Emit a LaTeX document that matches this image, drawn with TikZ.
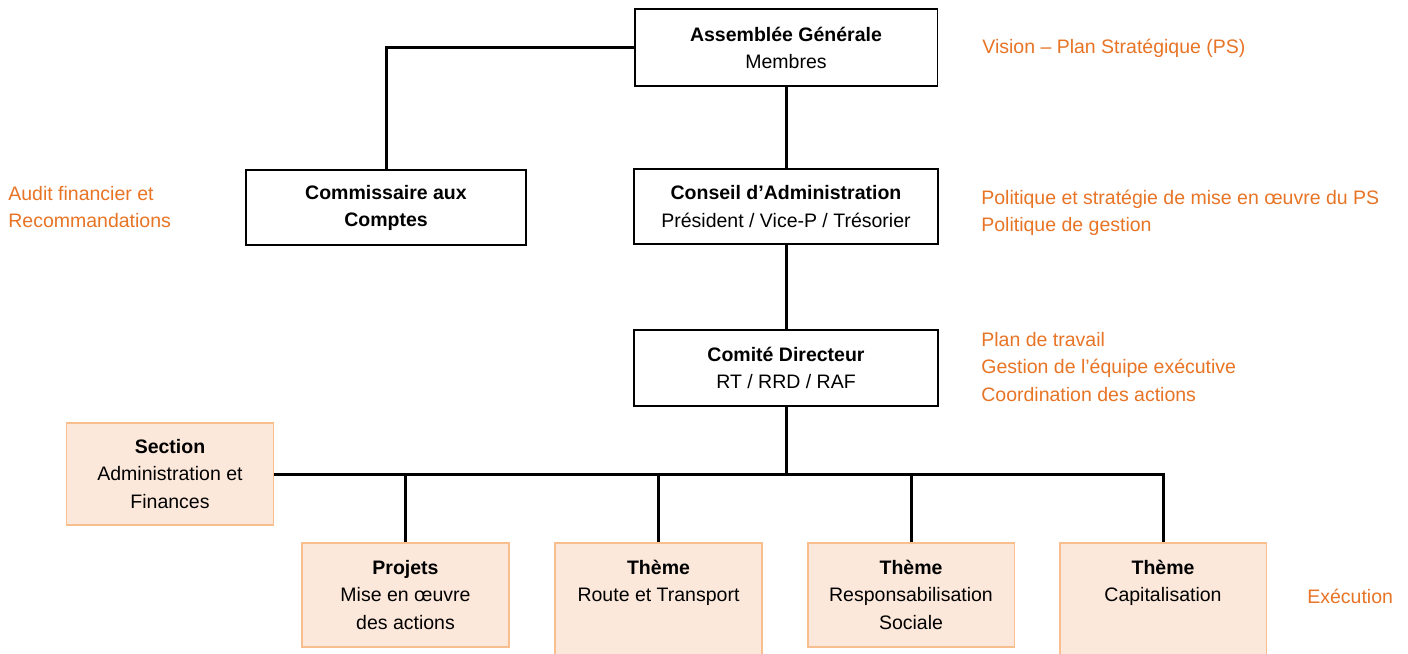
\documentclass[tikz,border=0pt]{standalone}
\usepackage{fontspec}
\setmainfont{Liberation Sans}
\usepackage{tikz}
\definecolor{peachfill}{RGB}{252,232,218}
\definecolor{peachline}{RGB}{248,190,142}
\definecolor{notecolor}{RGB}{232,116,38}

\begin{document}
\begin{tikzpicture}[x=0.02cm,y=-0.02cm]
  \newcommand{\unittext}[2]{\parbox[c][#1][t]{4.14cm}{\centering\vspace*{0.26cm}\strut#2}}
  \tikzstyle{every node}=[font=\fontsize{11.1}{15.4}\selectfont]
  \tikzstyle{edge}=[line width=1.7pt,draw=black]
  \tikzstyle{orgbox}=[
    draw=black,
    fill=white,
    line width=1.1pt,
    align=center,
    inner sep=0pt,
  ]
  \tikzstyle{unitbox}=[
    draw=peachline,
    fill=peachfill,
    line width=1.1pt,
    align=center,
    inner sep=0pt,
    minimum width=4.14cm,
  ]
  \tikzstyle{note}=[text=notecolor,align=left,anchor=west,inner sep=0pt]

  \clip (0,0) rectangle (1408,653);
  \fill[white] (0,0) rectangle (1408,653);

  \node[orgbox,minimum width=6.06cm,minimum height=1.54cm] (ag) at (786,47.5) {\textbf{Assemblée Générale}\\Membres};
  \node[orgbox,minimum width=5.6cm,minimum height=1.5cm] (cac) at (386,207.5) {\textbf{Commissaire aux}\\\textbf{Comptes}};
  \node[orgbox,minimum width=6.08cm,minimum height=1.5cm] (ca) at (786,206.5) {\textbf{Conseil d’Administration}\\Président / Vice-P / Trésorier};
  \node[orgbox,minimum width=6.08cm,minimum height=1.52cm] (cd) at (786,368) {\textbf{Comité Directeur}\\RT / RRD / RAF};

  \node[unitbox,minimum height=2.04cm] (sec) at (170,474) {\textbf{Section}\\Administration et\\Finances};
  \node[unitbox,anchor=north] (proj) at (405.5,542) {\unittext{2.08cm}{\textbf{Projets}\\Mise en œuvre\\des actions}};
  \node[unitbox,anchor=north] (route) at (658.5,542) {\unittext{3cm}{\textbf{Thème}\\Route et Transport}};
  \node[unitbox,anchor=north] (resp) at (911,542) {\unittext{2.08cm}{\textbf{Thème}\\Responsabilisation\\Sociale}};
  \node[unitbox,anchor=north] (cap) at (1163,542) {\unittext{3cm}{\textbf{Thème}\\Capitalisation}};

  \draw[edge] (ag.west) -| (cac.north);
  \draw[edge] (ag) -- (ca);
  \draw[edge] (ca) -- (cd);
  \coordinate (bus) at (cd.south |- sec.east);
  \draw[edge] (cd) -- (bus);
  \draw[edge] (sec.east) -| (cap.north);
  \foreach \u in {proj,route,resp}
    \draw[edge] (\u.north) -- (\u.north |- bus);

  \node[note] (vision) at (982,48) {Vision – Plan Stratégique (PS)};
  \node[note] (audit) at (8,207) {Audit financier et\\Recommandations};
  \node[note] (pol) at (981,213) {Politique et stratégie de mise en œuvre du PS\\Politique de gestion};
  \node[note] (plan) at (981,367) {Plan de travail\\Gestion de l’équipe exécutive\\Coordination des actions};
  \node[note] (exec) at (1307,596) {Exécution};
\end{tikzpicture}
\end{document}
